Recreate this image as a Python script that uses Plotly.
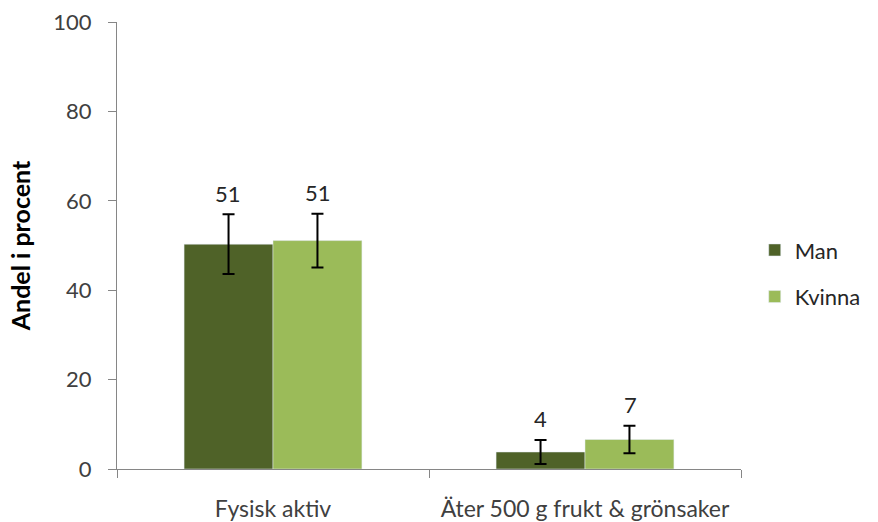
import plotly.graph_objects as go

categories = ["Fysisk aktiv", "Äter 500 g frukt & grönsaker"]
man_values = [50.3, 3.8]
man_err = [6.7, 2.7]
kvinna_values = [51.1, 6.6]
kvinna_err = [6.0, 3.1]
man_labels = ["51", "4"]
kvinna_labels = ["51", "7"]
y_ticks = [0, 20, 40, 60, 80, 100]

FONT = "Lato"
TXT = "#404040"
AX = "#868686"

fig = go.Figure()
fig.add_trace(go.Bar(
    x=categories, y=man_values, name="Man", marker_color="#4F6228",
    error_y=dict(type="data", array=man_err, color="black", thickness=2, width=6),
    legendgroup="m",
))
fig.add_trace(go.Bar(
    x=categories, y=kvinna_values, name="Kvinna", marker_color="#9BBB59",
    error_y=dict(type="data", array=kvinna_err, color="black", thickness=2, width=6),
    legendgroup="k",
))

bar_px = 45
for i, c in enumerate(categories):
    for vals, errs, labs, sh in ((man_values, man_err, man_labels, -bar_px),
                                 (kvinna_values, kvinna_err, kvinna_labels, bar_px)):
        fig.add_annotation(x=c, y=vals[i] + errs[i], text=labs[i], showarrow=False,
                           xshift=sh, yshift=21, yanchor="middle",
                           font=dict(family=FONT, size=22, color="#262626"))

fig.update_layout(
    width=878, height=522,
    margin=dict(l=117, r=128, t=22, b=53),
    paper_bgcolor="white", plot_bgcolor="white",
    barmode="group", bargap=0.43, bargroupgap=0,
    font=dict(family=FONT, size=22, color=TXT),
    showlegend=True,
    legend=dict(x=1.022, xanchor="left", y=0.437, yanchor="middle",
                font=dict(family=FONT, size=22, color="#262626"),
                tracegroupgap=15, traceorder="grouped"),
)
fig.update_xaxes(
    showline=True, linecolor=AX, linewidth=1, automargin=False,
    ticks="outside", tickson="boundaries", ticklen=8, tickcolor=AX,
    ticklabelstandoff=19, showgrid=False, tickangle=0,
    tickfont=dict(family=FONT, size=23, color=TXT),
)
fig.update_yaxes(
    range=[0, 100], tickvals=y_ticks, showline=True, linecolor=AX, linewidth=1,
    automargin=False,
    ticks="outside", ticklen=8, tickcolor=AX, showgrid=False, zeroline=False,
    ticklabelstandoff=12,
    tickfont=dict(family=FONT, size=22, color=TXT),
    title=dict(text="<b>Andel i procent</b>", standoff=15,
               font=dict(family=FONT, size=25, color="black")),
)

fig.write_html("out.html", config={"displayModeBar": False},
               post_script="document.body.style.margin='0';")
